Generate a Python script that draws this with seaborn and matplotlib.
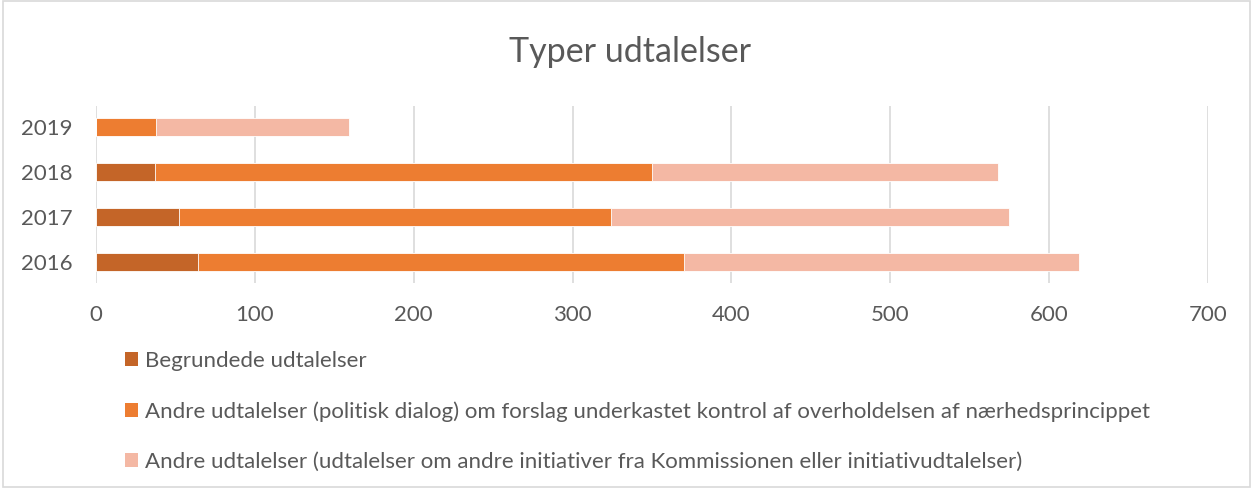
import matplotlib
matplotlib.use("Agg")
import matplotlib.pyplot as plt
from matplotlib.patches import Patch
import numpy as np
import pandas as pd
import seaborn as sns

years = ["2019", "2018", "2017", "2016"]
begrundede = [0, 37, 52, 64]
politisk = [38, 313, 272, 306]
andre = [121, 218, 251, 249]

series_names = [
    "Begrundede udtalelser",
    "Andre udtalelser (politisk dialog) om forslag underkastet kontrol af overholdelsen af nærhedsprincippet",
    "Andre udtalelser (udtalelser om andre initiativer fra Kommissionen eller initiativudtalelser)",
]
colors = ["#C46528", "#ED7D31", "#F4B8A4"]
text_color = "#595959"

sns.set_theme(style="white")
plt.rcParams["font.family"] = ["Lato", "DejaVu Sans"]

df = pd.DataFrame({"year": years, "b": begrundede, "p": politisk, "a": andre})
df["c1"] = df["b"]
df["c2"] = df["b"] + df["p"]
df["c3"] = df["c2"] + df["a"]

fig = plt.figure(figsize=(12.53, 4.88), dpi=100)
ax = fig.add_axes([96 / 1253, 1 - 283 / 488, (1208 - 96) / 1253, 177 / 488])

# overlay cumulative totals, largest first
for col, c in zip(["c3", "c2", "c1"], colors[::-1]):
    sns.barplot(data=df, x=col, y="year", order=years, color=c, width=0.4,
                saturation=1, edgecolor="white", linewidth=0.6, ax=ax, orient="h")

ax.set_xlim(0, 700)
ax.set_ylim(3.47, -0.47)
ax.set_xticks(np.arange(0, 701, 100))
ax.xaxis.grid(True, color="#D9D9D9", linewidth=1.2)
ax.set_axisbelow(True)
for s in ax.spines.values():
    s.set_visible(False)
ax.set_xlabel("")
ax.set_ylabel("")
ax.tick_params(axis="both", length=0, labelsize=16, labelcolor=text_color)
ax.tick_params(axis="x", pad=16)
ax.tick_params(axis="y", pad=17)

fig.text(0.503, 0.893, "Typer udtalelser", ha="center", va="center",
         fontsize=24.5, color=text_color)

handles = [Patch(facecolor=c, edgecolor="none") for c in colors]
fig.legend(handles, series_names, loc="upper left", bbox_to_anchor=(116 / 1253, 1 - 342 / 488),
           frameon=False, fontsize=16, labelcolor=text_color, handlelength=0.6,
           handleheight=0.6, handletextpad=0.3, labelspacing=1.36, borderaxespad=0)

fig.patches.append(plt.Rectangle((0.002, 0.002), 0.996, 0.996, transform=fig.transFigure,
                                 fill=False, edgecolor="#D9D9D9", linewidth=1.2))

fig.savefig("out.png", dpi=100)
